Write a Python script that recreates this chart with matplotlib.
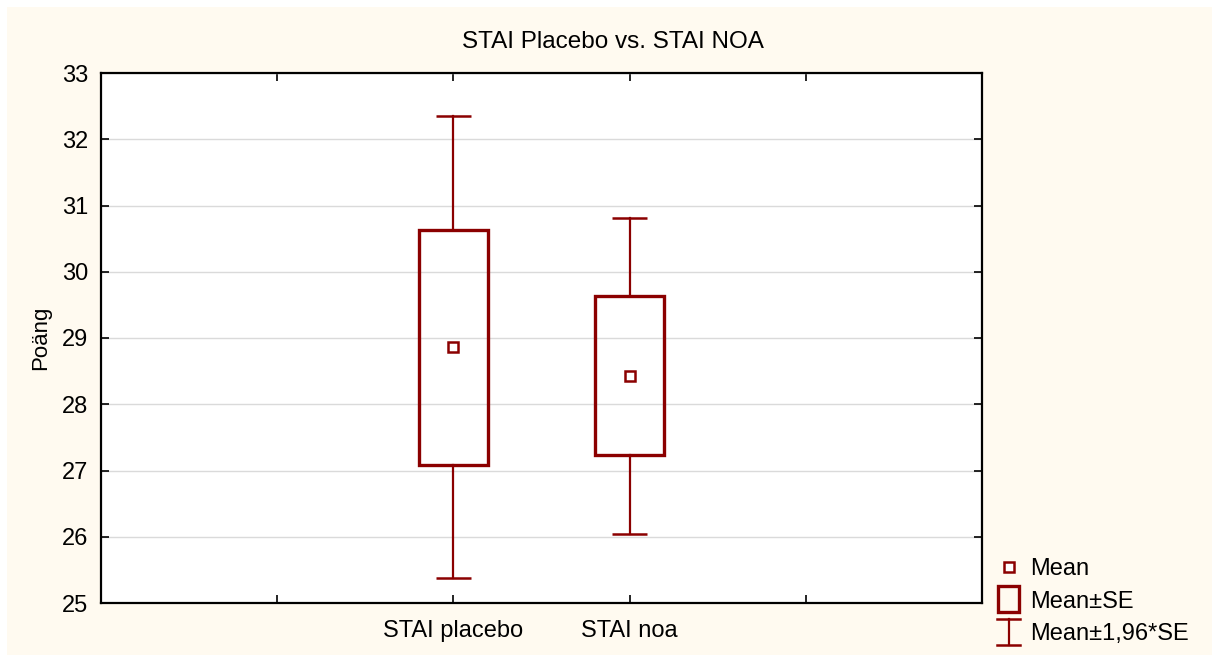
import matplotlib
matplotlib.use("Agg")
import matplotlib.pyplot as plt
from matplotlib.lines import Line2D
from matplotlib.patches import Rectangle
from matplotlib.legend_handler import HandlerBase

plt.rcParams['font.family'] = ['Liberation Sans', 'DejaVu Sans']

categories = ['STAI placebo', 'STAI noa']
means = [28.86, 28.43]
se = [1.775, 1.20]
ci = [3.49, 2.385]
title = 'STAI Placebo vs. STAI NOA'
ylabel = 'Poäng'
yticks = [25, 26, 27, 28, 29, 30, 31, 32, 33]
legend_labels = ['Mean', 'Mean±SE', 'Mean±1,96*SE']

RED = '#8B0000'
CREAM = '#FFFAF0'

W, H = 1212, 655
fig = plt.figure(figsize=(W / 100, H / 100), dpi=100, facecolor='white')
fig.add_artist(Rectangle((7 / W, 0), 1 - 7 / W, 1 - 7 / H, transform=fig.transFigure,
                         facecolor=CREAM, edgecolor='none', zorder=-10))
ax = fig.add_axes([101 / W, 1 - 603 / H, (982 - 101) / W, (603 - 73) / H])
ax.set_facecolor('white')

positions = [2, 3]
box_w = 0.39
cap_w = 0.20
for x, m, s, c in zip(positions, means, se, ci):
    ax.plot([x, x], [m + s, m + c], color=RED, lw=1.6, zorder=3)
    ax.plot([x, x], [m - s, m - c], color=RED, lw=1.6, zorder=3)
    ax.plot([x - cap_w / 2, x + cap_w / 2], [m + c, m + c], color=RED, lw=1.8,
            solid_capstyle='butt', zorder=3)
    ax.plot([x - cap_w / 2, x + cap_w / 2], [m - c, m - c], color=RED, lw=1.8,
            solid_capstyle='butt', zorder=3)
    ax.add_patch(Rectangle((x - box_w / 2, m - s), box_w, 2 * s, facecolor='none',
                           edgecolor=RED, lw=2.4, zorder=4))
ax.plot(positions, means, linestyle='none', marker='s', markersize=6.5,
        markerfacecolor='white', markeredgecolor=RED, markeredgewidth=1.8, zorder=5)

ax.set_xlim(0, 5)
ax.set_ylim(25, 33)
ax.set_yticks(yticks)
ax.set_xticks([1, 2, 3, 4])
ax.set_xticklabels(['', categories[0], categories[1], ''])
ax.yaxis.grid(True, color='#DADADA', lw=1.0)
ax.set_axisbelow(True)
ax.tick_params(direction='in', length=6, width=1.2, top=True, right=True,
               labelsize=17, pad=9, colors='black')
ax.tick_params(axis='x', pad=12)
for sp in ax.spines.values():
    sp.set_linewidth(1.6)
    sp.set_color('black')

fig.text(613 / W, 1 - 42 / H, title, fontsize=17.5, ha='center', va='center')
ax.set_ylabel(ylabel, fontsize=16, labelpad=8)


class IBarHandler(HandlerBase):
    def create_artists(self, legend, orig_handle, xdescent, ydescent, width, height,
                       fontsize, trans):
        cx = width / 2 - xdescent
        top = height * 1.3
        bot = -height * 0.3
        hw = width * 0.42
        l1 = Line2D([cx, cx], [bot, top], color=RED, lw=1.6, transform=trans)
        l2 = Line2D([cx - hw, cx + hw], [top, top], color=RED, lw=1.8, transform=trans)
        l3 = Line2D([cx - hw, cx + hw], [bot, bot], color=RED, lw=1.8, transform=trans)
        return [l1, l2, l3]


class BigBoxHandler(HandlerBase):
    def create_artists(self, legend, orig_handle, xdescent, ydescent, width, height,
                       fontsize, trans):
        cx = width / 2 - xdescent
        hw = width * 0.40
        r = Rectangle((cx - hw, -height * 0.28), 2 * hw, height * 1.56, facecolor='none',
                      edgecolor=RED, lw=2.4, transform=trans)
        return [r]


h_mean = Line2D([], [], linestyle='none', marker='s', markersize=6.5,
                markerfacecolor='white', markeredgecolor=RED, markeredgewidth=1.8)
h_box = object()
h_ibar = object()
leg = fig.legend([h_mean, h_box, h_ibar], legend_labels,
                 handler_map={h_box: BigBoxHandler(), h_ibar: IBarHandler()},
                 loc='upper left', bbox_to_anchor=(995 / W, 1 - 558 / H),
                 frameon=False, fontsize=17, handlelength=1.15, handletextpad=0.35,
                 labelspacing=0.45, borderpad=0, borderaxespad=0)

fig.savefig('out.png', dpi=100, facecolor=fig.get_facecolor())
